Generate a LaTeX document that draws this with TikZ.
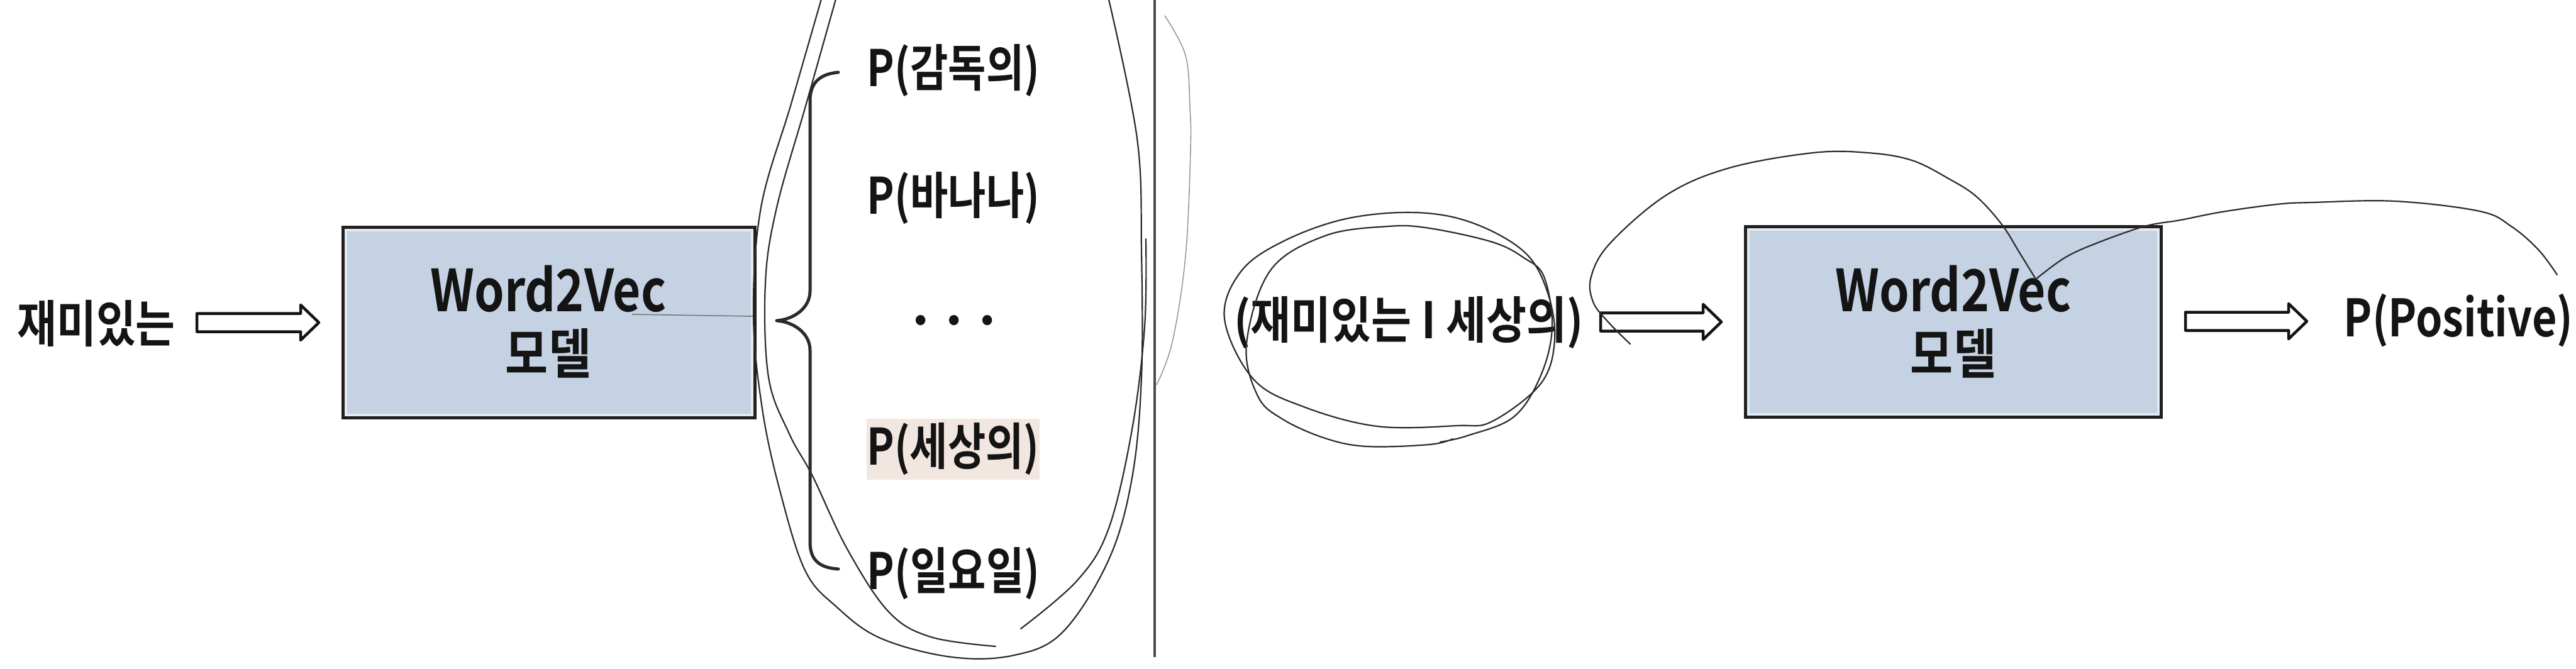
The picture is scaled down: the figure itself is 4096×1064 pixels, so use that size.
\documentclass[tikz,border=0pt]{standalone}
\usepackage{fontspec}
\setmainfont{Noto Sans CJK KR}[BoldFont={Noto Sans CJK KR Bold}]
\usetikzlibrary{calc}
\definecolor{ink}{HTML}{141414}
\definecolor{boxblue}{HTML}{C5D2E4}
\definecolor{boxedge}{HTML}{202020}
\definecolor{hlcol}{HTML}{F2E6E1}
\definecolor{pen}{HTML}{2B2B2B}
\newcommand\hsq[2]{\scalebox{#1}[1]{#2}}
\newcommand\fsz[1]{\fontsize{#1}{#1}\selectfont\bfseries}
\newcommand\harrow[2]{%
  \draw[harrowst] ([shift={(0,-14.5)}]#1) -- ([shift={(-29,-14.5)}]#2) -- ([shift={(-29,-28)}]#2) -- (#2)
    -- ([shift={(-29,28)}]#2) -- ([shift={(-29,14.5)}]#2) -- ([shift={(0,14.5)}]#1) -- cycle;}
\tikzset{
  lbl/.style={text=ink, inner sep=0pt, outer sep=0pt},
  w2vbox/.style={draw=boxedge, fill=boxblue, line width=5pt, minimum width=655pt, minimum height=303pt, inner sep=0pt},
  innerband/.style={draw=white, draw opacity=0.55, line width=4pt},
  harrowst/.style={draw=ink, fill=white, line width=4.5pt, line join=round},
  bracest/.style={draw=pen, line width=5pt, line cap=round, line join=round},
  scrib/.style={draw=pen, line width=2.2pt, line cap=round},
  faint/.style={draw=black!40, line width=1.6pt, line cap=round},
  divider/.style={draw=black!70, line width=4pt},
}
\begin{document}
\begin{tikzpicture}[x=1pt,y=-1pt]
\fill[white] (0,0) rectangle (4096,1064);
\useasboundingbox (0,0) rectangle (4096,1064);

% ---------- left half ----------
\node[lbl] (in) at (153,515) {\fsz{80}\hsq{0.855}{재미있는}};
\node[w2vbox] (b1) at (872.5,513) {};
\draw[innerband] ([shift={(7,7)}]b1.north west) rectangle ([shift={(-7,-7)}]b1.south east);
\node[lbl] (b1t) at (872,459) {\fsz{92}\hsq{0.83}{Word2Vec}};
\node[lbl] (b1m) at (872,562) {\fsz{86}\hsq{0.86}{모델}};
\coordinate (a1s) at (313,513);
\coordinate (a1e) at (507,513);
\harrow{a1s}{a1e}

% thin line from model to brace
\coordinate (ln1) at (1005,500);
\coordinate (ln2) at (1198,503);
\draw[draw=black!55, line width=1.5pt] (ln1) -- (ln2);

% brace
\draw[bracest] (1333,115) .. controls (1300,118) and (1288,135) .. (1288,160)
  -- (1288,463) .. controls (1288,490) and (1262,508) .. (1235,510)
  .. controls (1262,512) and (1288,530) .. (1288,557)
  -- (1288,862) .. controls (1288,888) and (1300,903) .. (1333,905);

% list of probabilities
\node[lbl] (p1) at (1516,112) {\fsz{80}\hsq{0.82}{P(감독의)}};
\node[lbl] (p2) at (1516,315) {\fsz{80}\hsq{0.82}{P(바나나)}};
\node[lbl] (dots) at (1517,510) {\fsz{84}. . .};
\node[lbl, fill=hlcol, minimum width=275pt, minimum height=97pt] (p3) at (1515.5,714.5) {\fsz{80}\hsq{0.82}{P(세상의)}};
\node[lbl] (p4) at (1516,912) {\fsz{80}\hsq{0.82}{P(일요일)}};

% hand-drawn loop round the list
\draw[scrib] plot[smooth, tension=0.6] coordinates {(1307,-5) (1258,165) (1210,330) (1198,500) (1212,650) (1240,780) (1280,907) (1330,965) (1400,1015) (1513,1045) (1613,1042) (1690,1005) (1763,890) (1800,760) (1815,600) (1815,400) (1808,220) (1762,-5)};
\draw[scrib] plot[smooth, tension=0.6] coordinates {(1330,-5) (1282,165) (1235,330) (1217,450) (1222,600) (1255,690) (1292,757) (1347,873) (1413,973) (1480,1013) (1583,1028)};
\draw[scrib] plot[smooth, tension=0.6] coordinates {(1623,1000) (1713,923) (1763,840) (1800,683) (1820,520) (1822,380)};

% divider
\draw[divider] (1836,0) -- (1836,1045);
\draw[faint] plot[smooth, tension=0.6] coordinates {(1852,25) (1885,88) (1892,170) (1893,240) (1885,408) (1864,544) (1839,612)};

% ---------- right half ----------
\node[lbl] (cond) at (2240,513) {\fsz{80}\hsq{0.87}{(재미있는 I 세상의)}};
\draw[scrib] plot[smooth cycle, tension=0.6] coordinates {(2250,338) (2340,354) (2423,400) (2460,463) (2472,540) (2450,610) (2373,670) (2317,677) (2190,678) (2073,647) (1993,603) (1947,507) (1973,432) (2040,384) (2140,348)};
\draw[scrib] plot[smooth, tension=0.6] coordinates {(2290,703) (2333,693) (2407,663) (2450,597) (2468,520) (2455,440) (2423,410) (2373,385) (2273,363) (2207,360) (2107,375) (2020,430) (1982,547) (2000,630) (2040,667) (2107,697) (2173,710) (2273,707) (2310,698)};

\coordinate (a2s) at (2545,512);
\coordinate (a2e) at (2737,512);
\harrow{a2s}{a2e}

\node[w2vbox, minimum width=661pt] (b2) at (3106,512) {};
\draw[innerband] ([shift={(7,7)}]b2.north west) rectangle ([shift={(-7,-7)}]b2.south east);
\node[lbl] (b2t) at (3106,459) {\fsz{92}\hsq{0.83}{Word2Vec}};
\node[lbl] (b2m) at (3106,562) {\fsz{86}\hsq{0.86}{모델}};

\coordinate (a3s) at (3475,511);
\coordinate (a3e) at (3668,511);
\harrow{a3s}{a3e}

\node[lbl] (out) at (3909,510) {\fsz{82}\hsq{0.83}{P(Positive)}};

% big scribble over the right model
\draw[scrib] plot[smooth, tension=0.6] coordinates {(2592,547) (2557,512) (2533,480) (2530,440) (2560,387) (2650,310) (2750,267) (2883,243) (2970,243) (3040,255) (3100,285) (3143,313) (3183,357) (3210,400) (3237,444)};
\draw[scrib] plot[smooth, tension=0.6] coordinates {(3237,444) (3283,410) (3333,387) (3410,360) (3467,350) (3533,337) (3620,325) (3676,322) (3809,320) (3943,336) (3993,360) (4036,397) (4066,437)};
\end{tikzpicture}
\end{document}
